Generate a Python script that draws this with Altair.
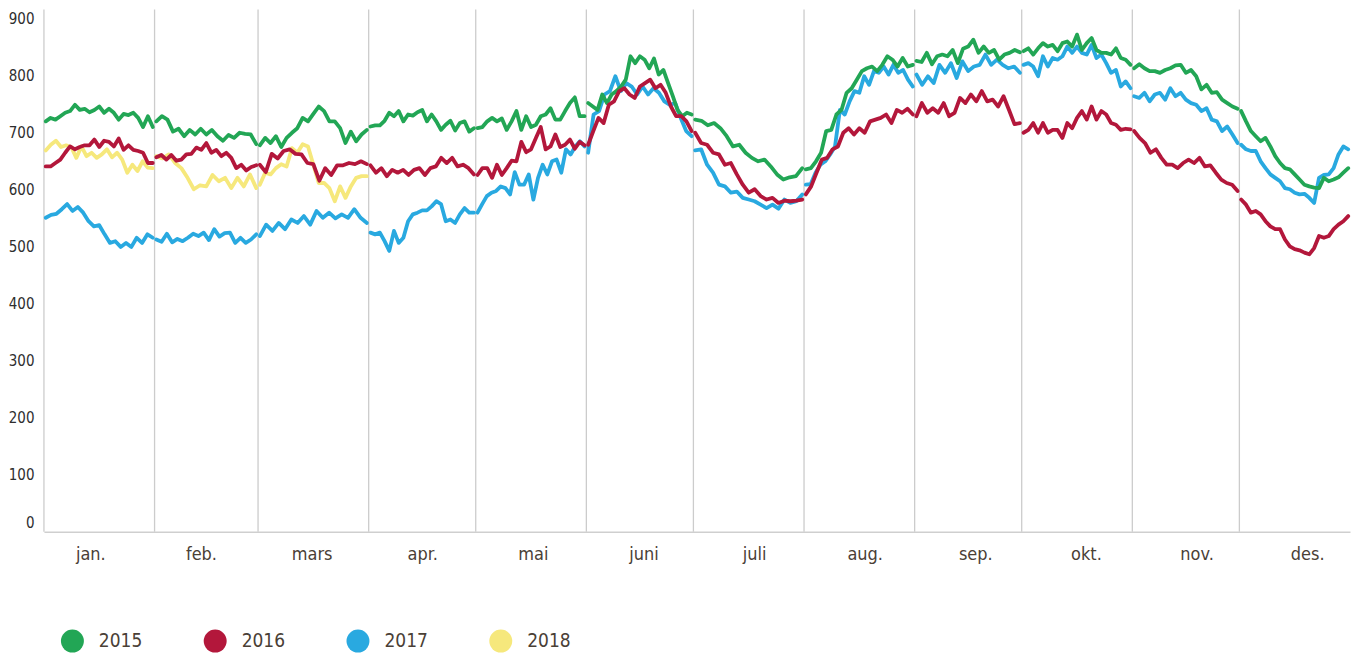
import altair as alt
import pandas as pd

years = ["2015", "2016", "2017", "2018"]
colors = ["#22a655", "#b3173b", "#29a9e0", "#f6e87c"]
draw_order = ["2018", "2017", "2015", "2016"]
month_names = ["jan.", "feb.", "mars", "apr.", "mai", "juni", "juli", "aug.", "sep.", "okt.", "nov.", "des."]
month_days = [31, 29, 31, 30, 31, 30, 31, 31, 30, 31, 30, 31]
label_pos = [13, 44, 75, 106, 137, 168, 199, 230, 261, 292, 323, 354]
y_ticks = [0, 100, 200, 300, 400, 500, 600, 700, 800, 900]

v2015 = [
    [719, 725, 722, 728, 734, 737, 748, 739, 741, 735, 739, 745, 734, 741, 734, 722, 732, 730, 734, 725, 709, 728, 709],
    [719, 728, 722, 701, 706, 693, 704, 696, 706, 696, 704, 693, 685, 695, 690, 699, 697, 696, 679],
    [677, 690, 681, 693, 674, 690, 699, 707, 725, 719, 732, 745, 737, 719, 719, 707, 681, 701, 684, 696, 704],
    [710, 712, 712, 720, 734, 728, 737, 719, 731, 729, 735, 739, 719, 731, 719, 704, 713, 720, 703, 716, 719, 701, 707],
    [707, 709, 719, 725, 719, 724, 704, 719, 737, 704, 728, 709, 713, 728, 731, 742, 722, 722, 737, 751, 761, 728, 728],
    [751, 745, 739, 766, 751, 766, 772, 780, 792, 833, 821, 833, 827, 812, 829, 801, 809, 786, 763, 739, 728, 734, 731],
    [722, 720, 712, 716, 707, 693, 675, 678, 664, 655, 649, 652, 640, 626, 617, 621, 623, 637],
    [635, 637, 649, 664, 702, 704, 731, 739, 769, 777, 792, 807, 812, 815, 807, 818, 833, 827, 815, 830, 815, 818],
    [825, 823, 839, 819, 833, 836, 833, 844, 821, 846, 850, 862, 839, 850, 839, 844, 827, 836, 839, 844, 840],
    [842, 847, 836, 847, 856, 850, 853, 842, 856, 859, 850, 871, 844, 856, 865, 844, 839, 839, 836, 847, 830, 827, 818],
    [812, 819, 812, 807, 807, 804, 809, 812, 817, 818, 804, 809, 798, 775, 783, 769, 770, 757, 751, 745, 741],
    [737, 719, 702, 693, 684, 690, 675, 658, 646, 637, 635, 626, 617, 608, 605, 603, 602, 620, 614, 617, 621, 629, 637],
]

v2016 = [
    [640, 640, 646, 652, 664, 675, 670, 674, 677, 677, 687, 674, 685, 683, 675, 689, 669, 677, 669, 667, 664, 646, 646],
    [656, 660, 652, 660, 650, 652, 661, 662, 673, 669, 681, 664, 669, 658, 664, 655, 637, 643, 633, 639, 642],
    [643, 630, 662, 654, 667, 670, 662, 661, 646, 644, 615, 637, 625, 642, 642, 646, 644, 649, 644],
    [642, 629, 637, 623, 634, 629, 634, 625, 634, 637, 625, 637, 640, 655, 646, 655, 640, 643, 637, 626],
    [625, 637, 637, 620, 643, 625, 637, 650, 649, 683, 665, 670, 690, 709, 670, 675, 696, 674, 678, 687, 671, 683, 677],
    [678, 702, 725, 716, 748, 754, 772, 777, 766, 760, 780, 786, 792, 777, 783, 769, 745, 728, 728, 719, 702],
    [699, 681, 678, 664, 661, 643, 646, 626, 608, 594, 600, 588, 582, 585, 576, 580, 579, 580, 582],
    [591, 605, 629, 652, 655, 670, 675, 699, 707, 696, 707, 699, 719, 722, 725, 731, 716, 739, 734, 741, 731],
    [728, 751, 734, 742, 734, 751, 728, 734, 760, 751, 766, 754, 772, 754, 757, 745, 763, 739, 714, 716],
    [699, 704, 716, 699, 716, 699, 704, 704, 690, 716, 707, 725, 737, 722, 745, 722, 737, 731, 716, 713, 704, 706, 705],
    [702, 690, 681, 664, 670, 655, 643, 643, 637, 646, 652, 646, 655, 640, 642, 629, 617, 611, 608, 597],
    [582, 573, 559, 562, 556, 544, 535, 530, 530, 512, 500, 495, 493, 489, 486, 497, 518, 515, 518, 530, 538, 544, 553],
]

v2017 = [
    [550, 555, 557, 565, 574, 562, 569, 559, 544, 535, 537, 521, 506, 509, 499, 506, 499, 515, 506, 521, 515],
    [512, 508, 522, 507, 513, 509, 515, 522, 518, 524, 511, 530, 517, 523, 524, 506, 515, 506, 512, 521],
    [518, 538, 527, 541, 530, 547, 541, 553, 538, 562, 550, 559, 549, 556, 550, 565, 550, 541],
    [524, 521, 524, 509, 492, 527, 506, 515, 544, 556, 559, 563, 563, 570, 579, 574, 544, 547, 541, 556, 567, 559, 559],
    [559, 574, 588, 594, 597, 605, 602, 591, 630, 608, 608, 626, 582, 620, 643, 626, 649, 652, 629, 670, 661, 675, 684, 675],
    [664, 731, 737, 766, 772, 798, 772, 786, 780, 766, 780, 766, 777, 769, 754, 748, 751, 725, 702, 693],
    [668, 670, 643, 629, 608, 605, 594, 596, 585, 582, 579, 573, 567, 573, 566, 582, 576, 579, 591],
    [608, 609, 629, 643, 649, 661, 675, 739, 731, 754, 772, 769, 798, 783, 807, 804, 815, 801, 818, 804, 809, 792, 780],
    [801, 783, 798, 786, 818, 804, 821, 795, 824, 807, 815, 818, 836, 818, 827, 818, 812, 815, 804],
    [818, 821, 815, 798, 833, 815, 830, 827, 833, 850, 839, 850, 839, 836, 853, 830, 836, 821, 804, 809, 780, 789, 777],
    [763, 760, 769, 754, 766, 769, 757, 777, 763, 769, 757, 751, 748, 737, 742, 722, 719, 702, 710, 696, 681],
    [678, 670, 667, 667, 649, 637, 626, 620, 614, 602, 600, 594, 591, 592, 585, 576, 620, 625, 626, 637, 661, 675, 670],
]

v2018 = [
    [668, 678, 685, 674, 677, 674, 655, 675, 658, 664, 655, 661, 670, 656, 664, 652, 629, 643, 632, 649, 638, 637],
    [658, 654, 661, 646, 637, 620, 600, 607, 605, 625, 614, 620, 602, 620, 605, 626, 602],
    [608, 629, 626, 637, 644, 640, 672, 664, 679, 675, 643, 611, 611, 602, 579, 605, 585, 605, 620, 623, 623],
]

series = {"2015": v2015, "2016": v2016, "2017": v2017, "2018": v2018}

month_start = [sum(month_days[:i]) for i in range(12)]

rows = []
for yr in draw_order:
    for m, vals in enumerate(series[yr]):
        n = len(vals)
        span = month_days[m] - 1
        for i, v in enumerate(vals):
            day = month_start[m] + 0.5 + i * span / (n - 1)
            rows.append({"year": yr, "month": m, "doy": day, "value": v})
df = pd.DataFrame(rows)
grid_df = pd.DataFrame({"start": month_start})
legend_df = pd.DataFrame({"year": years})

FONT = "DejaVu Sans Condensed, Liberation Sans Narrow, Roboto, sans-serif"
x_scale = alt.Scale(domain=[0, 366], nice=False, zero=False)
y_scale = alt.Scale(domain=[0, 915], nice=False)
color_scale = alt.Scale(domain=years, range=colors)

names_js = "[" + ",".join("'%s'" % n for n in month_names) + "]"
label_expr = "%s[round((datum.value - %d) / 31)]" % (names_js, label_pos[0])

x_axis = alt.Axis(values=label_pos, labelExpr=label_expr, grid=False, ticks=False,
                  domain=True, domainColor="#cfcfcf", domainWidth=1.5,
                  labelFont=FONT, labelFontSize=18, labelColor="#4a4036",
                  labelPadding=14, labelBaseline="top", labelAlign="center")
y_axis = alt.Axis(values=y_ticks, grid=False, ticks=False, domain=False,
                  labelFont=FONT, labelFontSize=15, labelColor="#2e2e2e",
                  labelPadding=10, minExtent=35, maxExtent=35,
                  labelOffset={"condition": {"test": "datum.value == 0", "value": -9}, "value": 0})
legend = alt.Legend(orient="none", legendX=17, legendY=621, direction="horizontal",
                    title=None, symbolType="circle", symbolSize=529,
                    symbolStrokeWidth=0, labelFont=FONT, labelFontSize=19,
                    labelColor="#4a4036", labelOffset=15, columnPadding=61,
                    gridAlign="all", padding=0)

grid = alt.Chart(grid_df).mark_rule(color="#cccccc", strokeWidth=1.3).encode(
    x=alt.X("start:Q", scale=x_scale, title=None, axis=x_axis)
)

lines = alt.Chart(df).mark_line(strokeWidth=3.8, strokeJoin="round", strokeCap="round").encode(
    x=alt.X("doy:Q", scale=x_scale, title=None, axis=x_axis),
    y=alt.Y("value:Q", scale=y_scale, title=None, axis=y_axis),
    color=alt.Color("year:N", scale=color_scale, legend=legend),
    detail="month:N",
    order=alt.Order("doy:Q"),
)

legend_pts = alt.Chart(legend_df).mark_point(filled=True, opacity=1, size=0).encode(
    color=alt.Color("year:N", scale=color_scale, legend=legend),
)

chart = alt.layer(grid, lines, legend_pts).properties(
    width=1308, height=523,
    padding={"left": 0, "top": 0, "right": 0, "bottom": 0},
).configure_view(stroke=None)

chart.save("out.html", embed_options={"renderer": "svg", "actions": False})
